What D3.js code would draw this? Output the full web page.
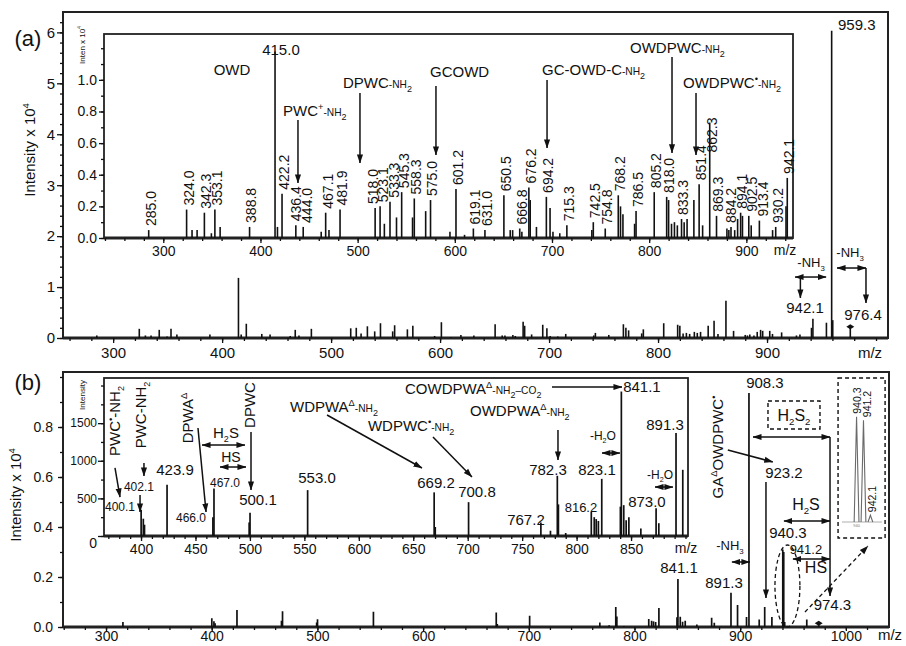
<!DOCTYPE html>
<html>
<head>
<meta charset="utf-8">
<script src="https://cdn.jsdelivr.net/npm/d3@7"></script>
<style>
html, body { margin: 0; padding: 0; background: #fff; }
svg { display: block; }
</style>
</head>
<body>
<svg id="chart" width="906" height="646"></svg>
<script>
const FONT = '"Liberation Sans", Arial, Helvetica, sans-serif';
const INK = '#111';

// ---------- Spectrum (a): product ions of m/z 959.3, intensity x 10^4 ----------
const aMz = [285.0, 324.0, 329.6, 334.8, 342.3, 349.5, 353.1, 358.5, 388.8, 415.0,
  417.5, 422.2, 436.4, 444.0, 462.5, 467.1, 470.5, 481.9, 518.0, 523.1,
  527.5, 533.3, 540.0, 545.3, 556.5, 558.3, 570.0, 575.0, 595.0, 601.2,
  610.0, 619.1, 631.0, 650.5, 657.0, 659.5, 666.8, 669.0, 676.2, 677.6,
  684.0, 694.2, 698.0, 701.0, 708.0, 715.3, 741.0, 742.5, 754.8, 768.2,
  770.5, 773.0, 785.0, 786.5, 805.2, 818.0, 820.0, 823.0, 826.0, 829.0,
  833.3, 836.0, 839.0, 846.0, 851.4, 855.0, 862.3, 869.3, 880.0, 882.0,
  884.2, 888.0, 891.0, 894.1, 896.0, 902.5, 905.0, 913.4, 927.0, 930.2,
  940.8, 942.1, 954.5, 959.3, 960.3, 976.4];
const aInt = [0.05, 0.18, 0.05, 0.05, 0.16, 0.03, 0.18, 0.07, 0.07, 1.18,
  0.07, 0.28, 0.08, 0.07, 0.04, 0.16, 0.05, 0.18, 0.19, 0.20,
  0.09, 0.23, 0.13, 0.29, 0.13, 0.25, 0.17, 0.24, 0.04, 0.31,
  0.02, 0.06, 0.05, 0.27, 0.05, 0.05, 0.06, 0.04, 0.32, 0.24,
  0.07, 0.26, 0.19, 0.04, 0.03, 0.08, 0.05, 0.10, 0.06, 0.27,
  0.20, 0.15, 0.09, 0.17, 0.29, 0.26, 0.24, 0.09, 0.10, 0.08,
  0.12, 0.10, 0.12, 0.24, 0.34, 0.08, 0.73, 0.14, 0.06, 0.05,
  0.07, 0.05, 0.12, 0.16, 0.14, 0.14, 0.08, 0.11, 0.05, 0.07,
  0.20, 0.38, 0.30, 6.03, 0.35, 0.22];
// peaks that carry a rotated m/z label in the expanded view
const aPeakLabels = ['285.0', '324.0', '342.3', '353.1', '388.8', '422.2', '436.4', '444.0',
  '467.1', '481.9', '518.0', '523.1', '533.3', '545.3', '558.3', '575.0', '601.2', '619.1',
  '631.0', '650.5', '666.8', '676.2', '694.2', '715.3', '742.5', '754.8', '768.2', '786.5',
  '805.2', '818.0', '833.3', '851.4', '862.3', '869.3', '884.2', '894.1', '902.5', '913.4',
  '930.2', '942.1'];
const aMarked = [976.4];

// ---------- Spectrum (b): intensity in counts ----------
const bMz = [316.0, 400.1, 402.1, 403.2, 423.9, 466.0, 467.0, 499.3, 500.1, 553.0,
  669.2, 670.2, 700.8, 767.2, 776.0, 782.3, 783.3, 790.0, 813.5, 816.2,
  818.0, 820.0, 823.1, 840.2, 841.1, 843.3, 845.5, 848.0, 859.0, 873.0,
  875.5, 891.3, 897.5, 906.0, 908.3, 918.0, 923.2, 930.0, 940.3, 941.2,
  942.1, 963.0, 974.3];
const bInt = [200, 350, 230, 150, 680, 250, 630, 180, 310, 610,
  580, 120, 450, 180, 70, 800, 420, 40, 320, 250,
  225, 200, 760, 390, 1920, 410, 210, 250, 100, 370,
  170, 1370, 880, 400, 9360, 300, 800, 400, 3100, 3000,
  200, 300, 150];
const bMarked = [974.3];
const bCluster = ['940.3', '941.2', '942.1'];   // expanded isotope view

// ---------- tick values ----------
const aMainYTicks = [0, 1, 2, 3, 4, 5, 6];
const aMainXTicks = [300, 400, 500, 600, 700, 800, 900];
const aInsetYTicks = [0, 0.2, 0.4, 0.6, 0.8, 1.0];
const aInsetXTicks = [300, 400, 500, 600, 700, 800, 900];
const bMainYTicks = [0, 0.2, 0.4, 0.6, 0.8];
const bMainXTicks = [300, 400, 500, 600, 700, 800, 900, 1000];
const bInsetYTicks = [0, 500, 1000, 1500];
const bInsetXTicks = [400, 450, 500, 550, 600, 650, 700, 750, 800, 850];

// ---------- annotations (data units of each panel) ----------
// text: t uses _{sub} ^{sup} ~{small}
const aInsetNotes = [
  {t: '415.0', mz: 421.1, v: 1.157},
  {t: 'OWD', mz: 370.7, v: 1.031},
  {t: 'PWC^{+}~{-NH}_{2}', mz: 423.2, v: 0.772, anchor: 'start'},
  {t: 'DPWC~{-NH}_{2}', mz: 484.9, v: 0.949, anchor: 'start'},
  {t: 'GCOWD', mz: 574.5, v: 1.018, anchor: 'start'},
  {t: 'GC-OWD-C~{-NH}_{2}', mz: 689.7, v: 1.031, anchor: 'start'},
  {t: 'OWDPWC~{-NH}_{2}', mz: 780.3, v: 1.170, anchor: 'start'},
  {t: 'OWDPWC^{•}~{-NH}_{2}', mz: 834.8, v: 0.949, anchor: 'start'}
];
const aInsetArrows = [
  [438.6, 0.746, 438.6, 0.348, 'one'], [502.4, 0.917, 502.4, 0.474, 'one'],
  [580.6, 0.961, 580.6, 0.525, 'one'], [694.9, 0.999, 694.9, 0.569, 'one'],
  [823.5, 1.145, 823.5, 0.538, 'one'], [848.2, 0.917, 848.2, 0.525, 'one']
];
const aMainNotes = [
  {t: '959.3', mz: 965.1, v: 6.05, anchor: 'start'},
  {t: '-NH_{3}', mz: 940.4, v: 1.394, fs: 13},
  {t: '942.1', mz: 934.9, v: 0.491},
  {t: '-NH_{3}', mz: 976.2, v: 1.59, fs: 13},
  {t: '976.4', mz: 988.1, v: 0.353}
];
const aMainArrows = [
  [925.7, 1.197, 954.2, 1.197, 'both'], [930.6, 1.197, 930.6, 0.785, 'one'],
  [964.2, 1.374, 990.8, 1.374, 'both'], [990.8, 1.374, 990.8, 0.687, 'one']
];
const bInsetNotes = [
  {t: 'PWC^{•}-NH_{2}', mz: 376.1, v: 1528, rot: true},
  {t: 'PWC-NH_{2}', mz: 400.0, v: 1608, rot: true},
  {t: 'DPWA^{Δ}', mz: 443.1, v: 1568, rot: true},
  {t: 'DPWC', mz: 500.0, v: 1741, rot: true},
  {t: '400.1', mz: 380.7, v: 332, fs: 12},
  {t: '402.1', mz: 398.1, v: 598, fs: 12},
  {t: '423.9', mz: 431.2, v: 811},
  {t: '466.0', mz: 445.9, v: 186, fs: 12},
  {t: 'H_{2}S', mz: 478.0, v: 1302},
  {t: 'HS', mz: 482.6, v: 983, fs: 14},
  {t: '467.0', mz: 477.1, v: 651, fs: 12},
  {t: '500.1', mz: 507.4, v: 412},
  {t: '553.0', mz: 561.6, v: 704},
  {t: 'WDPWA^{Δ}~{-NH}_{2}', mz: 536.8, v: 1648, anchor: 'start'},
  {t: 'WDPWC^{•}~{-NH}_{2}', mz: 608.4, v: 1395, anchor: 'start'},
  {t: '669.2', mz: 670.9, v: 638},
  {t: '700.8', mz: 708.5, v: 518},
  {t: 'COWDPWA^{Δ}~{-NH}_{2}~{–CO}_{2}', mz: 642.4, v: 1887, anchor: 'start'},
  {t: 'OWDPWA^{Δ}~{-NH}_{2}', mz: 702.1, v: 1595, anchor: 'start'},
  {t: '782.3', mz: 773.7, v: 811},
  {t: '823.1', mz: 818.7, v: 811},
  {t: '-H_{2}O', mz: 824.2, v: 1276, fs: 12},
  {t: '767.2', mz: 753.5, v: 146},
  {t: '816.2', mz: 804.0, v: 319, fs: 13},
  {t: '841.1', mz: 860.0, v: 1914},
  {t: '891.3', mz: 881.2, v: 1409},
  {t: '-H_{2}O', mz: 876.6, v: 758, fs: 12},
  {t: '873.0', mz: 864.6, v: 385}
];
const bInsetArrows = [
  [376.1, 904, 380.7, 518, 'one'], [402.7, 970, 402.7, 797, 'one'],
  [399.1, 545, 399.1, 319, 'one'], [452.3, 1435, 459.7, 319, 'one'],
  [456.0, 1209, 495.5, 1209, 'both'], [472.5, 917, 496.4, 917, 'both'],
  [501.0, 1382, 501.0, 611, 'one'], [570.8, 1608, 658.0, 904, 'one'],
  [668.1, 1316, 703.9, 784, 'one'], [777.4, 1980, 841.7, 1980, 'one'],
  [782.9, 1409, 782.9, 1010, 'one'], [823.3, 1103, 839.8, 1103, 'both'],
  [872.0, 651, 888.5, 651, 'both']
];
const bMainNotes = [
  {t: '-NH_{3}', mz: 890.3, v: 0.308, fs: 13},
  {t: '841.1', mz: 842.1, v: 0.216},
  {t: '891.3', mz: 884.7, v: 0.156},
  {t: '908.3', mz: 923.4, v: 0.956},
  {t: 'GA^{Δ}OWDPWC^{•}', mz: 878.8, v: 0.72, rot: true},
  {t: '923.2', mz: 941.4, v: 0.596},
  {t: 'H_{2}S_{2}', mz: 950.9, v: 0.824, fs: 16},
  {t: 'H_{2}S', mz: 962.2, v: 0.468, fs: 16},
  {t: '940.3', mz: 945.2, v: 0.356},
  {t: '941.2', mz: 962.2, v: 0.292, fs: 13},
  {t: 'HS', mz: 971.7, v: 0.216, fs: 16},
  {t: '974.3', mz: 987.3, v: 0.068}
];
const bMainArrows = [
  [892.2, 0.26, 909.2, 0.26, 'both'], [888.3, 0.708, 930.9, 0.66, 'one'],
  [924.4, 0.58, 924.4, 0.116, 'one'], [912.1, 0.76, 985.0, 0.76, 'both'],
  [985.0, 0.76, 985.0, 0.124, 'one'], [941.4, 0.424, 985.0, 0.424, 'both'],
  [949.9, 0.272, 985.0, 0.272, 'both'], [961.3, 0.06, 1020.9, 0.324, 'dash']
];
const bDashedBoxes = [[926.3, 0.904, 975.5, 0.792], [992.6, 0.996, 1037.1, 0.356]];
const bEllipse = {mz: 944.7, v: 0.164, dmz: 11.8, dv: 0.164};

// ---------- scales ----------
const xA = d3.scaleLinear([254, 1011], [63, 888]);
const yA = d3.scaleLinear([0, 6.4], [338, 12]);
const xAi = d3.scaleLinear([239, 948], [104, 793]);
const yAi = d3.scaleLinear([0, 1.29], [238, 34]);
const xB = d3.scaleLinear([259.3, 1040.8], [63, 889]);
const yB = d3.scaleLinear([0, 1.02], [627, 372]);
const xBi = d3.scaleLinear([366, 902.3], [104, 688]);
const yBi = d3.scaleLinear([0, 2100], [536, 378]);

const svg = d3.select('#chart').attr('font-family', FONT).attr('fill', INK);

const defs = svg.append('defs');
defs.append('marker').attr('id', 'ah').attr('viewBox', '0 0 10 10')
  .attr('refX', 9.5).attr('refY', 5).attr('markerWidth', 9).attr('markerHeight', 9)
  .attr('markerUnits', 'userSpaceOnUse').attr('orient', 'auto-start-reverse')
  .append('path').attr('d', 'M0,1.6L10,5L0,8.4z').attr('fill', INK);

// text with sub/superscripts and small runs
function rich(text, markup, fs) {
  const re = /([_^~])\{([^}]*)\}|([^_^~]+)/g;
  let m, shift = 0;
  while ((m = re.exec(markup))) {
    const kind = m[1] || '';
    const txt = m[1] ? m[2] : m[3];
    let size = fs, target = 0;
    if (kind === '_') { size = fs * 0.6; target = fs * 0.28; }
    else if (kind === '^') { size = fs * 0.62; target = -fs * 0.42; }
    else if (kind === '~') { size = fs * 0.68; target = 0; }
    text.append('tspan').attr('font-size', size).attr('dy', target - shift).text(txt);
    shift = target;
  }
}

function drawNotes(g, sx, sy, notes) {
  notes.forEach(d => {
    const fs = d.fs || 15;
    let t;
    if (d.rot) {
      t = g.append('text')
        .attr('transform', `translate(${sx(d.mz)},${sy(d.v)}) rotate(-90)`)
        .attr('y', fs * 0.35);
    } else {
      t = g.append('text').attr('x', sx(d.mz)).attr('y', sy(d.v));
    }
    t.attr('text-anchor', d.anchor || 'middle').attr('font-size', fs);
    rich(t, d.t, fs);
  });
}

function drawArrows(g, sx, sy, list) {
  g.selectAll(null).data(list).join('line')
    .attr('x1', d => sx(d[0])).attr('y1', d => sy(d[1]))
    .attr('x2', d => sx(d[2])).attr('y2', d => sy(d[3]))
    .attr('stroke', INK).attr('stroke-width', d => d[4] === 'dash' ? 1.3 : 1.5)
    .attr('stroke-dasharray', d => d[4] === 'dash' ? '4,3' : null)
    .attr('marker-end', 'url(#ah)')
    .attr('marker-start', d => d[4] === 'both' ? 'url(#ah)' : null);
}

function drawPeaks(g, sx, sy, mz, iv, k, width) {
  const dom = sx.domain();
  const pts = d3.zip(mz, iv).filter(d => d[0] >= dom[0] && d[0] <= dom[1]);
  g.selectAll(null).data(pts).join('line')
    .attr('x1', d => sx(d[0])).attr('x2', d => sx(d[0]))
    .attr('y1', sy(0)).attr('y2', d => sy(d[1] * k))
    .attr('stroke', INK).attr('stroke-width', width);
}

function drawMarks(g, sx, sy, mz, iv, marked, k) {
  marked.forEach(m => {
    const v = iv[mz.indexOf(m)] * k;
    const cx = sx(m), cy = sy(v);
    g.append('path').attr('d', `M${cx - 4},${cy}L${cx},${cy - 2.5}L${cx + 4},${cy}L${cx},${cy + 2.5}Z`)
      .attr('fill', INK);
  });
}

function styleAxis(a, fs) {
  a.attr('font-family', FONT).attr('font-size', fs).attr('color', INK);
  a.select('.domain').remove();
  a.selectAll('line').attr('stroke-width', 1.3);
}

function axes(g, sx, sy, o) {
  const bottom = sy.range()[0], left = sx.range()[0];
  const yMinor = g.append('g').attr('transform', `translate(${left},0)`)
    .call(d3.axisLeft(sy).tickValues(o.yMinor).tickSize(3).tickFormat(''));
  styleAxis(yMinor, o.fsY);
  const yMaj = g.append('g').attr('transform', `translate(${left},0)`)
    .call(d3.axisLeft(sy).tickValues(o.yTicks).tickSize(o.ySize).tickPadding(o.yPad).tickFormat(o.yFmt));
  styleAxis(yMaj, o.fsY);
  const xMinor = g.append('g').attr('transform', `translate(0,${bottom})`)
    .call(d3.axisBottom(sx).tickValues(o.xMinor).tickSize(3).tickFormat(''));
  styleAxis(xMinor, o.fsX);
  const xMaj = g.append('g').attr('transform', `translate(0,${bottom})`)
    .call(d3.axisBottom(sx).tickValues(o.xTicks).tickSize(o.xSize || 5).tickPadding(o.xPad).tickFormat(d3.format('d')));
  styleAxis(xMaj, o.fsX);
  return yMaj;
}

function frame(g, sx, sy, fill, w) {
  const [x0, x1] = sx.range(), [y0, y1] = sy.range();
  g.append('rect').attr('x', x0).attr('y', y1).attr('width', x1 - x0).attr('height', y0 - y1)
    .attr('fill', fill).attr('stroke', '#222').attr('stroke-width', w);
  g.append('line').attr('x1', x0).attr('x2', x1).attr('y1', y0).attr('y2', y0)
    .attr('stroke', '#222').attr('stroke-width', w + 1.2);
}

function rotTitle(g, x, y, markup, fs) {
  const t = g.append('text').attr('transform', `translate(${x},${y}) rotate(-90)`)
    .attr('text-anchor', 'middle').attr('y', fs * 0.35).attr('font-size', fs);
  rich(t, markup, fs);
}

// rotated peak labels, kept below a ceiling and pushed apart where they collide
function peakLabels(g, sx, sy, mz, iv, labels, fs, gap, minGap, ceilV) {
  const len = fs * 2.5;
  const ceilY = ceilV == null ? -Infinity : sy(ceilV);
  const items = labels.map(s => {
    const m = +s, v = iv[mz.indexOf(m)];
    const bot = Math.max(sy(v) - gap, ceilY);
    return {s, x: sx(m) + 2, bot, top: bot - len};
  }).sort((a, b) => a.x - b.x);
  for (let it = 0; it < 200; it++) {
    for (let i = 0; i < items.length; i++) {
      for (let j = i + 1; j < items.length; j++) {
        const a = items[i], b = items[j];
        if (b.x - a.x >= minGap) break;
        if (a.top > b.bot || b.top > a.bot) continue;
        const d = (minGap - (b.x - a.x)) / 2;
        a.x -= d; b.x += d;
      }
    }
  }
  g.selectAll(null).data(items).join('text')
    .attr('transform', d => `translate(${d.x},${d.bot}) rotate(-90)`)
    .attr('y', fs * 0.35).attr('font-size', fs).attr('text-anchor', 'start')
    .text(d => d.s);
}

// ================= panel (a) =================
const gA = svg.append('g');
frame(gA, xA, yA, 'none', 2);
axes(gA, xA, yA, {
  yTicks: aMainYTicks, yMinor: d3.range(0, 6.3, 0.2), ySize: 6, yPad: 2, yFmt: d3.format('d'), fsY: 15,
  xTicks: aMainXTicks, xMinor: d3.range(260, 1010, 20), xPad: 4, fsX: 15
});
drawPeaks(gA, xA, yA, aMz, aInt, 1, 1.6);
drawMarks(gA, xA, yA, aMz, aInt, aMarked, 1);
drawArrows(gA, xA, yA, aMainArrows);
drawNotes(gA, xA, yA, aMainNotes);
rotTitle(gA, 30, 150, 'Intensity x 10^{4}', 15);
gA.append('text').attr('x', 28).attr('y', 46).attr('text-anchor', 'middle').attr('font-size', 22).text('(a)');
gA.append('text').attr('x', 870).attr('y', 358).attr('text-anchor', 'middle').attr('font-size', 15).text('m/z');

// expanded view of (a)
const gAi = svg.append('g');
frame(gAi, xAi, yAi, '#fff', 1.8);
axes(gAi, xAi, yAi, {
  yTicks: aInsetYTicks, yMinor: d3.range(0, 1.25, 0.1), ySize: 5, yPad: 2, yFmt: d3.format('.1f'), fsY: 14,
  xTicks: aInsetXTicks, xMinor: d3.range(240, 948, 20), xPad: 3, fsX: 14
});
drawPeaks(gAi, xAi, yAi, aMz, aInt, 1, 1.6);
peakLabels(gAi, xAi, yAi, aMz, aInt, aPeakLabels, 14, 4, 10.5, 0.54);
drawArrows(gAi, xAi, yAi, aInsetArrows);
drawNotes(gAi, xAi, yAi, aInsetNotes);
rotTitle(gAi, 82, 45, 'Inten x 10^{4}', 8);
gAi.append('text').attr('x', 785).attr('y', 255).attr('text-anchor', 'middle').attr('font-size', 14).text('m/z');

// ================= panel (b) =================
const gB = svg.append('g');
frame(gB, xB, yB, 'none', 2);
axes(gB, xB, yB, {
  yTicks: bMainYTicks, yMinor: d3.range(0, 1.01, 0.1), ySize: 5, yPad: 5, yFmt: d3.format('.1f'), fsY: 14,
  xTicks: bMainXTicks, xMinor: d3.range(260, 1040, 20), xSize: 4, xPad: 0, fsX: 14
});
drawPeaks(gB, xB, yB, bMz, bInt, 1e-4, 1.7);
drawMarks(gB, xB, yB, bMz, bInt, bMarked, 1e-4);
drawArrows(gB, xB, yB, bMainArrows);
gB.selectAll(null).data(bDashedBoxes).join('rect')
  .attr('x', d => xB(d[0])).attr('y', d => yB(d[1]))
  .attr('width', d => xB(d[2]) - xB(d[0])).attr('height', d => yB(d[3]) - yB(d[1]))
  .attr('fill', 'none').attr('stroke', INK).attr('stroke-width', 1.4).attr('stroke-dasharray', '4,3');
gB.append('ellipse')
  .attr('cx', xB(bEllipse.mz)).attr('cy', yB(bEllipse.v))
  .attr('rx', xB(bEllipse.mz + bEllipse.dmz) - xB(bEllipse.mz))
  .attr('ry', yB(0) - yB(bEllipse.dv))
  .attr('fill', 'none').attr('stroke', INK).attr('stroke-width', 1.3).attr('stroke-dasharray', '4,3');
drawNotes(gB, xB, yB, bMainNotes);
rotTitle(gB, 16, 495, 'Intensity x 10^{4}', 15);
gB.append('text').attr('x', 28).attr('y', 390).attr('text-anchor', 'middle').attr('font-size', 22).text('(b)');
gB.append('text').attr('x', 890).attr('y', 640).attr('text-anchor', 'middle').attr('font-size', 15).text('m/z');

// isotope cluster in the dashed box
const xM = d3.scaleLinear([938.4, 943.6], [xB(996.3), xB(1034.1)]);
const yM = d3.scaleLinear([0, 3300], [yB(0.42), yB(0.868)]);
const gM = svg.append('g');
gM.append('line').attr('x1', xM.range()[0]).attr('x2', xM.range()[1])
  .attr('y1', yM(0)).attr('y2', yM(0)).attr('stroke', '#999').attr('stroke-width', 0.8);
const cluster = bCluster.map(s => [+s, bInt[bMz.indexOf(+s)]]);
gM.selectAll(null).data(cluster).join('path')
  .attr('d', d => `M${xM(d[0]) - 2.4},${yM(0)}L${xM(d[0])},${yM(d[1])}L${xM(d[0]) + 2.4},${yM(0)}`)
  .attr('fill', 'none').attr('stroke', '#6a6a6a').attr('stroke-width', 1.1);
peakLabels(gM, xM, yM, bMz, bInt, bCluster, 10.5, 3, 10);
gM.append('text').attr('x', xM(940.3)).attr('y', yM(0) + 5).attr('font-size', 4)
  .attr('text-anchor', 'middle').attr('fill', '#777').text('940');

// expanded view of (b)
const gBi = svg.append('g');
frame(gBi, xBi, yBi, '#fff', 1.8);
const biY = axes(gBi, xBi, yBi, {
  yTicks: bInsetYTicks, yMinor: d3.range(0, 2001, 250), ySize: 6, yPad: 1, yFmt: d3.format('d'), fsY: 12,
  xTicks: bInsetXTicks, xMinor: d3.range(370, 902, 10), xPad: 3, fsX: 14
});
// the zero label sits just under the corner
biY.selectAll('.tick text').filter(d => d === 0).attr('dy', '0.85em').attr('font-size', 14);
drawPeaks(gBi, xBi, yBi, bMz, bInt, 1, 1.7);
drawArrows(gBi, xBi, yBi, bInsetArrows);
drawNotes(gBi, xBi, yBi, bInsetNotes);
rotTitle(gBi, 82, 395, 'Intensity', 8);
gBi.append('text').attr('x', 686).attr('y', 553).attr('text-anchor', 'middle').attr('font-size', 14).text('m/z');
</script>
</body>
</html>
